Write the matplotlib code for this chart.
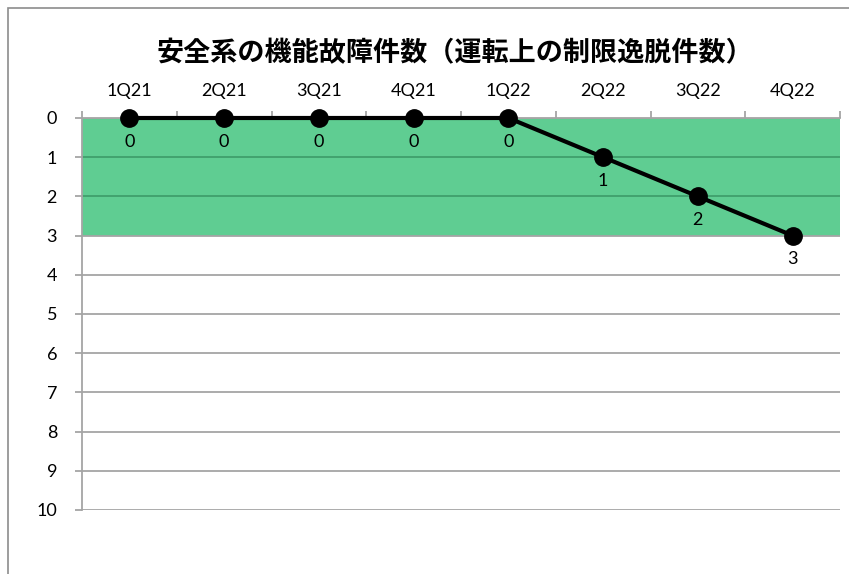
import matplotlib

matplotlib.use("Agg")
import matplotlib.pyplot as plt
from matplotlib.patches import Rectangle

plt.rcParams["font.family"] = ["Lato", "Noto Sans CJK JP", "DejaVu Sans"]

# --- data ---
title = "安全系の機能故障件数（運転上の制限逸脱件数）"
quarters = ["1Q21", "2Q21", "3Q21", "4Q21", "1Q22", "2Q22", "3Q22", "4Q22"]
counts = [0, 0, 0, 0, 0, 1, 2, 3]
limit = 3
y_ticks = list(range(0, 11))

GRID = "#A5A5A5"
GREEN = "#5FCD92"
GREEN_LINE = "#3F9F6C"

fig = plt.figure(figsize=(8.49, 5.74), dpi=100)
ax = fig.add_axes([82 / 849, 1 - 510 / 574, 758 / 849, 392 / 574])

x = list(range(len(quarters)))
ax.set_xlim(-0.5, len(quarters) - 0.5)
ax.set_ylim(max(y_ticks), min(y_ticks))

# green band 0..limit
ax.axhspan(0, limit, color=GREEN, zorder=0.5, lw=0)
for t in y_ticks:
    col = GREEN_LINE if 0 < t < limit else GRID
    ax.axhline(t, color=col, lw=1.3, zorder=0.6)

ax.plot(x, counts, color="black", lw=3, marker="o", ms=12.5,
        zorder=3, clip_on=False)
for xi, v in zip(x, counts):
    ax.annotate(str(v), (xi, v), xytext=(0, -17), textcoords="offset points",
                ha="center", va="center", fontsize=13, zorder=4)

# axes styling
for s in ["right", "bottom"]:
    ax.spines[s].set_visible(False)
for s in ["left", "top"]:
    ax.spines[s].set_color(GRID)
    ax.spines[s].set_linewidth(1.3)

ax.xaxis.tick_top()
ax.set_xticks(x)
ax.set_xticklabels(quarters, fontsize=13)
ax.tick_params(axis="x", which="major", length=0, pad=14)
ax.set_xticks([i - 0.5 for i in range(len(quarters) + 1)], minor=True)
ax.tick_params(axis="x", which="minor", length=5, color=GRID, width=1.3, top=True)

ax.set_yticks(y_ticks)
ax.set_yticklabels([str(t) for t in y_ticks], fontsize=13)
ax.tick_params(axis="y", length=5, color=GRID, width=1.3, pad=13)

fig.text(455 / 849, 1 - 53 / 574, title, ha="center", va="center",
         fontsize=19.5, fontweight="bold",
         family=["Noto Sans CJK JP", "DejaVu Sans"])

# chart border
fig.add_artist(Rectangle((8 / 849, -0.1), 1.2, 1.1 - 8 / 574,
                         transform=fig.transFigure, fill=False,
                         edgecolor="#8C8C8C", lw=1.2))

fig.savefig("out.png", dpi=100)
